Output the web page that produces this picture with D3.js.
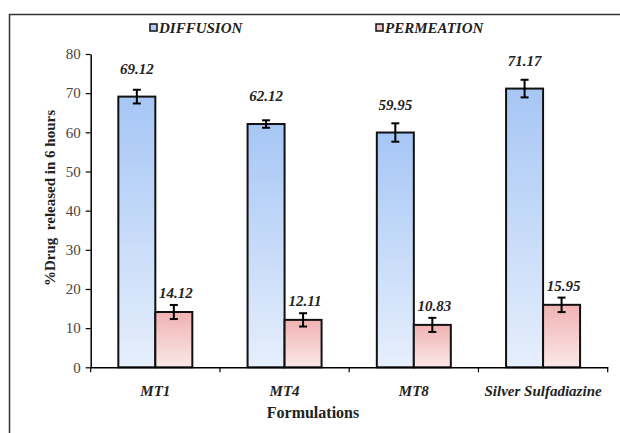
<!DOCTYPE html>
<html><head><meta charset="utf-8">
<script src="https://cdn.jsdelivr.net/npm/d3@7"></script>
<style>body{margin:0;background:#fff;} svg{display:block;} text{font-family:'Liberation Serif','Times New Roman',Tinos,'DejaVu Serif',serif !important;}</style>
</head><body>
<svg id="c" width="620" height="433"></svg>
<script>
const categories = ["MT1", "MT4", "MT8", "Silver Sulfadiazine"];
const seriesNames = ["DIFFUSION", "PERMEATION"];
const diffusion = [69.12, 62.12, 59.95, 71.17];
const permeation = [14.12, 12.11, 10.83, 15.95];
const diffusionErr = [1.75, 0.95, 2.35, 2.25];
const permeationErr = [1.8, 1.7, 1.8, 1.85];
const yTicks = [0, 10, 20, 30, 40, 50, 60, 70, 80];

const svg = d3.select("#c");
const pLeft = 90.7, pRight = 607.7, pTop = 54, pBottom = 367.3;

const defs = svg.append("defs");
function grad(id, c1, c2) {
  const g = defs.append("linearGradient").attr("id", id).attr("x1", 0).attr("y1", 0).attr("x2", 0).attr("y2", 1);
  g.append("stop").attr("offset", "0%").attr("stop-color", c1);
  g.append("stop").attr("offset", "100%").attr("stop-color", c2);
}
grad("gD", "#a6c6f5", "#e6effc");
grad("gP", "#f0b2b2", "#fbe8e8");
const fills = ["url(#gD)", "url(#gP)"];
const legFills = ["#b4d0f6", "#f3c2c2"];

// frame
svg.append("path").attr("d", "M9.5,433 L9.5,14.5 L620,14.5").attr("fill", "none").attr("stroke", "#333").attr("stroke-width", 1.5);

const x = d3.scaleBand().domain(categories).range([pLeft, pRight]).padding(0);
const bw = 37;
const xs = d3.scaleBand().domain(seriesNames).range([x.bandwidth() / 2 - bw, x.bandwidth() / 2 + bw]).padding(0);
const y = d3.scaleLinear().domain([0, 80]).range([pBottom, pTop]);

// y axis
const ya = svg.append("g").attr("transform", `translate(${pLeft},0)`)
  .call(d3.axisLeft(y).tickValues(yTicks).tickSize(5).tickSizeOuter(0).tickPadding(5));
ya.attr("font-family", null);
ya.select(".domain").attr("stroke", "#000").attr("stroke-width", 1.5);
ya.selectAll(".tick line").attr("stroke", "#000").attr("stroke-width", 1.2);
ya.selectAll(".tick text").attr("font-size", 15).attr("fill", "#444");

// bars
const series = [diffusion, permeation];
const errs = [diffusionErr, permeationErr];
const labelOff = [28, 19];
series.forEach((vals, si) => {
  const g = svg.append("g");
  categories.forEach((c, i) => {
    const bx = x(c) + xs(seriesNames[si]);
    const v = vals[i];
    g.append("rect").attr("x", bx).attr("y", y(v)).attr("width", xs.bandwidth()).attr("height", y(0) - y(v))
      .attr("fill", fills[si]).attr("stroke", "#111").attr("stroke-width", 2);
    const cx = bx + xs.bandwidth() / 2;
    const e = errs[si][i];
    g.append("line").attr("x1", cx).attr("x2", cx).attr("y1", y(v + e)).attr("y2", y(v - e)).attr("stroke", "#000").attr("stroke-width", 2);
    [v + e, v - e].forEach(ev => g.append("line").attr("x1", cx - 4).attr("x2", cx + 4).attr("y1", y(ev)).attr("y2", y(ev)).attr("stroke", "#000").attr("stroke-width", 2));
    g.append("text").attr("x", cx + (si === 1 ? 2 : 0)).attr("y", y(v) - labelOff[si] + 5).attr("text-anchor", "middle")
      .attr("font-size", 15).attr("font-weight", "bold").attr("font-style", "italic").attr("fill", "#222").text(v.toFixed(2));
  });
});

// x axis
const xa = svg.append("g").attr("transform", `translate(0,${pBottom})`)
  .call(d3.axisBottom(x).tickSize(0).tickPadding(18));
xa.attr("font-family", null);
xa.select(".domain").attr("stroke", "#000").attr("stroke-width", 1.5);
xa.selectAll(".tick text").attr("font-size", 15).attr("font-weight", "bold").attr("font-style", "italic").attr("fill", "#222");
const bounds = categories.map(c => x(c)).concat([x(categories[categories.length - 1]) + x.step()]);
xa.selectAll(".bt").data(bounds).enter().append("line").attr("x1", d => d).attr("x2", d => d).attr("y1", 0).attr("y2", 5).attr("stroke", "#000").attr("stroke-width", 1.2);

// axis titles
svg.append("text").attr("x", 313).attr("y", 418).attr("text-anchor", "middle")
  .attr("font-size", 16).attr("font-weight", "bold").attr("fill", "#222").text("Formulations");
svg.append("text").attr("transform", "translate(55,198) rotate(-90)").attr("text-anchor", "middle")
  .attr("font-size", 15).attr("font-weight", "bold").attr("fill", "#222").style("white-space", "pre").text("%Drug  released in 6 hours");

// legend
const legX = [150, 376];
seriesNames.forEach((n, i) => {
  svg.append("rect").attr("x", legX[i]).attr("y", 24).attr("width", 7).attr("height", 7)
    .attr("fill", legFills[i]).attr("stroke", "#111").attr("stroke-width", 1.5);
  svg.append("text").attr("x", legX[i] + 9).attr("y", 32.5).attr("font-size", 15).attr("font-weight", "bold")
    .attr("font-style", "italic").attr("fill", "#222").text(n);
});
</script>
</body></html>
